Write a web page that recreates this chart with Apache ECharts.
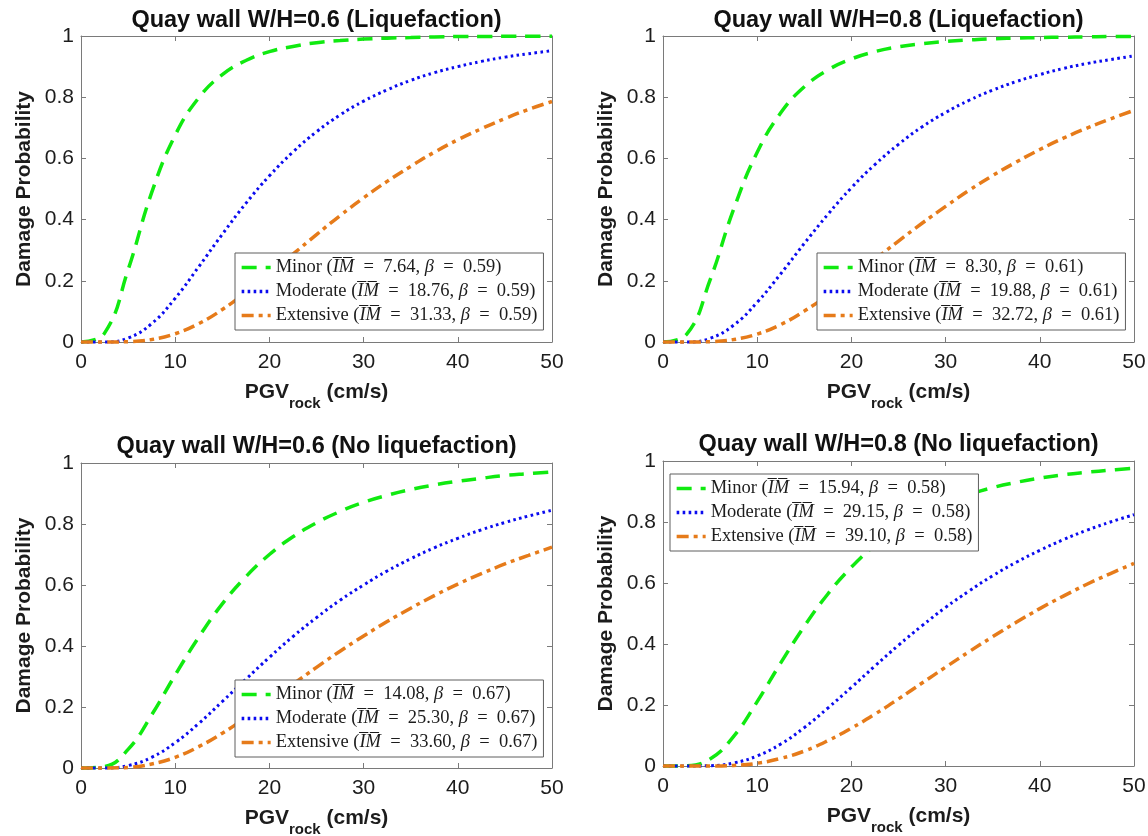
<!DOCTYPE html>
<html>
<head>
<meta charset="utf-8">
<title>Quay wall fragility curves</title>
<script src="https://cdn.jsdelivr.net/npm/echarts@6/dist/echarts.min.js"></script>
<style>
  html, body { margin: 0; padding: 0; background: #ffffff; }
  #chart { width: 1148px; height: 836px; }
</style>
</head>
<body>
<div id="chart"></div>
<script>
// PGV on rock (cm/s) at which the fragility curves are sampled
const pgv = [0, 2.5, 5, 7.5, 10, 12.5, 15, 17.5, 20, 22.5, 25, 27.5, 30, 32.5, 35, 37.5, 40, 42.5, 45, 47.5, 50];

const panelTitles = [
  'Quay wall W/H=0.6 (Liquefaction)',
  'Quay wall W/H=0.8 (Liquefaction)',
  'Quay wall W/H=0.6 (No liquefaction)',
  'Quay wall W/H=0.8 (No liquefaction)'
];

const damageStates = ['Minor', 'Moderate', 'Extensive'];

// median PGV and dispersion per panel (legend entries)
const medianIM = [
  ['7.64', '18.76', '31.33'],
  ['8.30', '19.88', '32.72'],
  ['14.08', '25.30', '33.60'],
  ['15.94', '29.15', '39.10']
];
const betaValues = ['0.59', '0.61', '0.67', '0.58'];

// damage probabilities, W/H = 0.6 with liquefaction
const liq06Minor     = [0, 0.029, 0.236, 0.488, 0.676, 0.798, 0.874, 0.920, 0.949, 0.966, 0.978, 0.985, 0.990, 0.993, 0.995, 0.997, 0.998, 0.998, 0.999, 0.999, 0.999];
const liq06Moderate  = [0, 0.000, 0.013, 0.060, 0.143, 0.246, 0.352, 0.453, 0.543, 0.621, 0.687, 0.742, 0.787, 0.824, 0.855, 0.880, 0.900, 0.917, 0.931, 0.942, 0.952];
const liq06Extensive = [0, 0.000, 0.001, 0.008, 0.027, 0.060, 0.106, 0.162, 0.223, 0.287, 0.351, 0.413, 0.471, 0.525, 0.574, 0.620, 0.661, 0.697, 0.730, 0.760, 0.786];

// W/H = 0.8 with liquefaction
const liq08Minor     = [0, 0.025, 0.203, 0.434, 0.620, 0.749, 0.834, 0.889, 0.925, 0.949, 0.965, 0.975, 0.982, 0.987, 0.991, 0.993, 0.995, 0.996, 0.997, 0.998, 0.998];
const liq08Moderate  = [0, 0.000, 0.012, 0.055, 0.130, 0.223, 0.322, 0.417, 0.504, 0.580, 0.646, 0.703, 0.750, 0.790, 0.823, 0.851, 0.874, 0.894, 0.910, 0.923, 0.935];
const liq08Extensive = [0, 0.000, 0.001, 0.008, 0.026, 0.057, 0.101, 0.153, 0.210, 0.270, 0.330, 0.388, 0.443, 0.496, 0.544, 0.588, 0.629, 0.666, 0.699, 0.729, 0.757];

// W/H = 0.6 without liquefaction
const dry06Minor     = [0, 0.005, 0.061, 0.174, 0.305, 0.429, 0.538, 0.627, 0.700, 0.758, 0.804, 0.841, 0.871, 0.894, 0.913, 0.928, 0.940, 0.950, 0.959, 0.965, 0.971];
const dry06Moderate  = [0, 0.000, 0.008, 0.035, 0.083, 0.146, 0.218, 0.291, 0.363, 0.431, 0.493, 0.550, 0.600, 0.646, 0.686, 0.722, 0.753, 0.781, 0.805, 0.826, 0.845];
const dry06Extensive = [0, 0.000, 0.002, 0.013, 0.035, 0.070, 0.114, 0.165, 0.219, 0.275, 0.330, 0.383, 0.433, 0.480, 0.524, 0.565, 0.603, 0.637, 0.669, 0.697, 0.724];

// W/H = 0.8 without liquefaction
const dry08Minor     = [0, 0.001, 0.023, 0.097, 0.211, 0.338, 0.458, 0.564, 0.652, 0.724, 0.781, 0.827, 0.862, 0.890, 0.913, 0.930, 0.944, 0.955, 0.963, 0.970, 0.976];
const dry08Moderate  = [0, 0.000, 0.001, 0.010, 0.033, 0.072, 0.126, 0.190, 0.258, 0.328, 0.396, 0.460, 0.520, 0.574, 0.624, 0.668, 0.707, 0.742, 0.773, 0.800, 0.824];
const dry08Extensive = [0, 0.000, 0.000, 0.002, 0.009, 0.025, 0.049, 0.083, 0.124, 0.170, 0.220, 0.272, 0.324, 0.375, 0.424, 0.471, 0.516, 0.557, 0.596, 0.631, 0.664];

const panelCurves = [
  [liq06Minor, liq06Moderate, liq06Extensive],
  [liq08Minor, liq08Moderate, liq08Extensive],
  [dry06Minor, dry06Moderate, dry06Extensive],
  [dry08Minor, dry08Moderate, dry08Extensive]
];

// ---- layout and styling ----
const gridBoxes = [
  { left: 81,  top: 36,  width: 471, height: 306 },
  { left: 663, top: 36,  width: 471, height: 306 },
  { left: 81,  top: 463, width: 471, height: 305 },
  { left: 663, top: 461, width: 471, height: 305 }
];
const legendBoxes = [
  { left: 235, top: 253 },
  { left: 817, top: 253 },
  { left: 235, top: 680 },
  { left: 670, top: 474 }
];
const titleAnchors = [
  { x: 316.5, y: 21 },
  { x: 898.5, y: 21 },
  { x: 316.5, y: 447 },
  { x: 898.5, y: 445 }
];

const sansFont = '"Liberation Sans", Arial, Helvetica, sans-serif';
const serifFont = '"Liberation Serif", "Times New Roman", serif';
const axisGray = '#7a7a7a';
const inkColor = '#1c1c1c';

const curveStyles = [
  { color: '#10ea10', width: 3.5, type: [15, 9], cap: 'butt' },
  { color: '#0b0bef', width: 3,   type: [2.6, 3.4], cap: 'butt' },
  { color: '#e67b1a', width: 3.5, type: [12, 5, 4, 5], cap: 'butt' }
];

const grids = [], xAxes = [], yAxes = [], series = [], legends = [], graphics = [];
const legendText = {};

const commonAxisLine = { show: true, onZero: false, lineStyle: { color: axisGray, width: 1 } };
const commonTick = { show: true, inside: true, length: 5, lineStyle: { color: axisGray, width: 1 } };

gridBoxes.forEach((box, p) => {
  grids.push(Object.assign({ show: false, containLabel: false, outerBoundsMode: 'none' }, box));

  // bottom and left axes carry the labels; top and right close the box
  xAxes[p] = {
    gridIndex: p, type: 'value', min: 0, max: 50, interval: 10, position: 'bottom',
    axisLine: commonAxisLine, axisTick: commonTick,
    axisLabel: { show: true, margin: 10, fontSize: 21, color: inkColor, fontFamily: sansFont },
    splitLine: { show: false },
    name: '{m|PGV}{s|rock}{m| (cm/s)}',
    nameLocation: 'middle', nameGap: 31,
    nameTextStyle: {
      rich: {
        m: { fontSize: 21, fontWeight: 'bold', fontFamily: sansFont, color: inkColor, lineHeight: 38 },
        s: { fontSize: 15, fontWeight: 'bold', fontFamily: sansFont, color: inkColor, lineHeight: 16, verticalAlign: 'bottom' }
      }
    }
  };
  xAxes[p + 4] = {
    gridIndex: p, type: 'value', min: 0, max: 50, interval: 10, position: 'top',
    axisLine: commonAxisLine, axisTick: commonTick,
    axisLabel: { show: false }, splitLine: { show: false }
  };
  yAxes[p] = {
    gridIndex: p, type: 'value', min: 0, max: 1, interval: 0.2, position: 'left',
    axisLine: commonAxisLine, axisTick: commonTick,
    axisLabel: { show: true, margin: 7, fontSize: 21, color: inkColor, fontFamily: sansFont },
    splitLine: { show: false },
    name: 'Damage Probability', nameLocation: 'middle', nameGap: 46,
    nameTextStyle: { fontSize: 21, fontWeight: 'bold', fontFamily: sansFont, color: inkColor }
  };
  yAxes[p + 4] = {
    gridIndex: p, type: 'value', min: 0, max: 1, interval: 0.2, position: 'right',
    axisLine: commonAxisLine, axisTick: commonTick,
    axisLabel: { show: false }, splitLine: { show: false }
  };

  const names = [];
  damageStates.forEach((state, s) => {
    const name = state + ' ' + (p + 1);
    names.push(name);
    legendText[name] = '{t|' + state + ' (}{v|I\u0305M\u0305}{t|  =  ' + medianIM[p][s] +
      ', }{v|\u03B2}{t|  =  ' + betaValues[p] + ')}';
    const st = curveStyles[s];
    series.push({
      type: 'line', name: name, xAxisIndex: p, yAxisIndex: p,
      data: pgv.map((x, k) => [x, panelCurves[p][s][k]]),
      symbol: 'none', showSymbol: false, smooth: 0.45,
      clip: false, animation: false,
      itemStyle: { color: st.color },
      lineStyle: { color: st.color, width: st.width, type: st.type, cap: st.cap }
    });
  });

  legends.push({
    show: true, orient: 'vertical', left: legendBoxes[p].left, top: legendBoxes[p].top,
    data: names, selectedMode: false,
    padding: [5, 6, 5, 5], itemGap: 5, itemWidth: 29, itemHeight: 14,
    backgroundColor: '#ffffff', borderColor: '#5e5e5e', borderWidth: 1, borderRadius: 0,
    itemStyle: { opacity: 0, borderWidth: 0 },
    lineStyle: { width: 3.3 },
    formatter: n => legendText[n],
    textStyle: {
      fontFamily: serifFont, fontSize: 18.5, color: inkColor,
      rich: {
        t: { fontFamily: serifFont, fontSize: 18.5, color: inkColor },
        v: { fontFamily: serifFont, fontSize: 18.5, color: inkColor, fontStyle: 'italic' }
      }
    }
  });

  graphics.push({
    type: 'text', x: titleAnchors[p].x, y: titleAnchors[p].y, silent: true,
    style: {
      text: panelTitles[p], align: 'center', verticalAlign: 'middle',
      font: 'bold 23.5px ' + sansFont, fill: '#111111'
    }
  });
});

const chart = echarts.init(document.getElementById('chart'), null, { renderer: 'canvas', width: 1148, height: 836 });
chart.setOption({
  backgroundColor: '#ffffff',
  animation: false,
  grid: grids,
  xAxis: xAxes,
  yAxis: yAxes,
  legend: legends,
  series: series,
  graphic: graphics
});
</script>
</body>
</html>
